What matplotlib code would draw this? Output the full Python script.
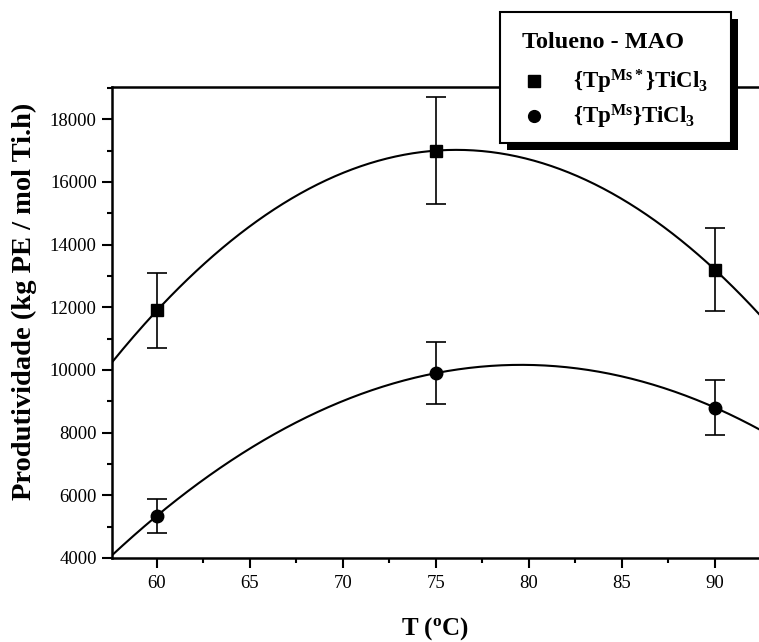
import numpy as np
import matplotlib
matplotlib.use("Agg")
import matplotlib.pyplot as plt
from matplotlib.patches import Rectangle
from matplotlib.lines import Line2D
from matplotlib.ticker import MultipleLocator

# ---- data ----
temps = [60, 75, 90]
prod_msstar = [11900, 17000, 13200]
err_msstar = [1200, 1700, 1320]
prod_ms = [5350, 9900, 8800]
err_ms = [540, 980, 880]
label_msstar = r'{Tp$^{\mathrm{Ms*}}$}TiCl$_{\mathrm{3}}$'
label_ms = r'{Tp$^{\mathrm{Ms}}$}TiCl$_{\mathrm{3}}$'
legend_title = 'Tolueno - MAO'
xlabel = r'T ($^{\mathrm{o}}$C)'
ylabel = 'Produtividade (kg PE / mol Ti.h)'
xticks = [60, 65, 70, 75, 80, 85, 90]
yticks = [4000, 6000, 8000, 10000, 12000, 14000, 16000, 18000]

plt.rcParams['font.family'] = ['Liberation Serif', 'DejaVu Serif']
plt.rcParams['mathtext.fontset'] = 'custom'
plt.rcParams['mathtext.rm'] = 'Liberation Serif:bold'
plt.rcParams['mathtext.bf'] = 'Liberation Serif:bold'
plt.rcParams['mathtext.it'] = 'Liberation Serif:bold:italic'

W, H = 759, 642
fig = plt.figure(figsize=(W / 100, H / 100), dpi=100)
ax = fig.add_axes([112 / W, (H - 558) / H, (W - 112) / W, (558 - 87) / H])

xmin, xmax = 57.58, 92.37
ax.set_xlim(xmin, xmax)
ax.set_ylim(4000, 19030)

# fitted quadratic curves
xs = np.linspace(xmin, xmax, 300)
for yv in (prod_msstar, prod_ms):
    c = np.polyfit(temps, yv, 2)
    ax.plot(xs, np.polyval(c, xs), color='black', lw=1.5, zorder=2)

ax.errorbar(temps, prod_msstar, yerr=err_msstar, fmt='s', color='black',
            ms=8, capsize=7, capthick=1.2, elinewidth=1.2, zorder=3)
ax.errorbar(temps, prod_ms, yerr=err_ms, fmt='o', color='black',
            ms=9, capsize=7, capthick=1.2, elinewidth=1.2, zorder=3)

ax.set_xticks(xticks)
ax.set_yticks(yticks)
ax.xaxis.set_minor_locator(MultipleLocator(2.5))
ax.yaxis.set_minor_locator(MultipleLocator(1000))
ax.tick_params(which='major', direction='out', length=7, width=1.5, labelsize=13.5, pad=4)
ax.tick_params(which='minor', direction='out', length=3.5, width=1.5)
ax.tick_params(axis='x', which='major', pad=5)

for s in ('left', 'bottom', 'top'):
    ax.spines[s].set_linewidth(1.8)
ax.spines['right'].set_visible(False)

ax.set_xlabel(xlabel, fontsize=18, fontweight='bold')
ax.set_ylabel(ylabel, fontsize=20.5, fontweight='bold')
ax.xaxis.set_label_coords(0.5, -(629 - 558) / (558 - 87))
ax.yaxis.set_label_coords(-(112 - 24) / (W - 112), (558 - 301) / (558 - 87))
ax.xaxis.label.set_verticalalignment('center')
ax.yaxis.label.set_verticalalignment('center')

handles = [Line2D([], [], marker='s', ls='none', color='black', ms=8),
           Line2D([], [], marker='o', ls='none', color='black', ms=8.5)]
leg = ax.legend(handles, [label_msstar, label_ms], title=legend_title, loc='upper left',
                bbox_to_anchor=(503 / W, 1 - 13 / H), bbox_transform=fig.transFigure,
                prop={'size': 16.5, 'weight': 'bold'}, title_fontproperties={'size': 17.5, 'weight': 'bold'},
                frameon=False, handlelength=1.0, handletextpad=1.2, borderpad=0.85,
                labelspacing=0.3, borderaxespad=0, alignment='left')
leg._legend_box.sep = 10.5
leg.set_zorder(10)

# legend frame and drop shadow
fx0, fx1, fy0, fy1 = 500, 731, 12, 143
off = 7
shadow = Rectangle(((fx0 + off) / W, 1 - (fy1 + off) / H), (fx1 - fx0) / W, (fy1 - fy0) / H,
                   transform=fig.transFigure, facecolor='black', edgecolor='none', zorder=8)
frame = Rectangle((fx0 / W, 1 - fy1 / H), (fx1 - fx0) / W, (fy1 - fy0) / H,
                  transform=fig.transFigure, facecolor='white', edgecolor='black', lw=1.5, zorder=9)
for p in (shadow, frame):
    p.set_clip_on(False)
    ax.add_artist(p)

fig.savefig('out.png', dpi=100)
